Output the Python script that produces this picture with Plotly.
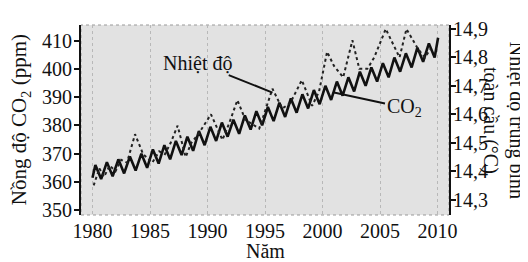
import plotly.graph_objects as go

# CO2 concentration (ppm), seasonal zigzag
co2_years = [1980.0, 1980.25, 1980.75, 1981.25, 1981.75, 1982.25, 1982.75, 1983.25, 1983.75,
             1984.25, 1984.75, 1985.25, 1985.75, 1986.25, 1986.75, 1987.25, 1987.75,
             1988.25, 1988.75, 1989.25, 1989.75, 1990.25, 1990.75, 1991.25, 1991.75,
             1992.25, 1992.75, 1993.25, 1993.75, 1994.25, 1994.75, 1995.25, 1995.75,
             1996.25, 1996.75, 1997.25, 1997.75, 1998.25, 1998.75, 1999.25, 1999.75,
             2000.25, 2000.75, 2001.25, 2001.75, 2002.25, 2002.75, 2003.25, 2003.75,
             2004.25, 2004.75, 2005.25, 2005.75, 2006.25, 2006.75, 2007.25, 2007.75,
             2008.25, 2008.75, 2009.25, 2009.75, 2010.05]
co2_ppm = [361.5, 366, 361, 367, 362, 368, 363, 369, 364,
           370, 365, 371.5, 366.5, 373, 368, 374.5, 369.5,
           376, 371, 378, 373, 379.5, 374.5, 381, 376,
           382, 377, 383.5, 378.5, 385, 380, 386.5, 381.5,
           388, 383, 389.5, 384.5, 391, 386, 392.5, 387.5,
           394, 389, 395.5, 390.5, 397, 392, 399, 394,
           400.5, 395.5, 402, 397, 404, 399, 405.5, 400.5,
           407.5, 402.5, 409, 404, 411]

# Global mean temperature (°C)
temp_years = [1980.1, 1980.6, 1981.0, 1981.5, 1982.0, 1982.5, 1983.0, 1983.7, 1984.4,
              1985.2, 1985.8, 1986.3, 1986.8, 1987.4, 1988.1, 1988.6, 1989.2, 1989.8,
              1990.3, 1991.3, 1991.9, 1992.6, 1993.3, 1994.5, 1995.0, 1995.65, 1996.5,
              1997.2, 1998.2, 1999.1, 1999.7, 2000.4, 2001.0, 2001.8, 2002.6, 2003.2,
              2003.9, 2004.5, 2005.5, 2006.7, 2007.3, 2008.3, 2008.9, 2009.4]
temp_c = [14.35, 14.41, 14.38, 14.42, 14.40, 14.44, 14.43, 14.53, 14.46,
          14.43, 14.47, 14.46, 14.50, 14.56, 14.45, 14.50, 14.53, 14.57,
          14.60, 14.51, 14.57, 14.65, 14.58, 14.55, 14.61, 14.69, 14.62,
          14.64, 14.72, 14.63, 14.68, 14.82, 14.77, 14.73, 14.86, 14.76,
          14.76, 14.80, 14.90, 14.80, 14.90, 14.83, 14.80, 14.83]

x_ticks = [1980, 1985, 1990, 1995, 2000, 2005, 2010]
co2_ticks = [350, 360, 370, 380, 390, 400, 410]
temp_ticks = [14.3, 14.4, 14.5, 14.6, 14.7, 14.8, 14.9]

FONT = "Liberation Serif"
FS = 20

fig = go.Figure()
fig.add_trace(go.Scatter(x=temp_years, y=temp_c, mode="lines", yaxis="y2",
                         line=dict(color="#222", width=2, dash="dot"), showlegend=False))
fig.add_trace(go.Scatter(x=co2_years, y=co2_ppm, mode="lines",
                         line=dict(color="#111", width=2.6), showlegend=False))

fig.update_layout(
    width=528, height=262,
    margin=dict(l=73, r=87, t=10, b=55),
    paper_bgcolor="white", plot_bgcolor="#e2e2e2",
    separators=", ",
    font=dict(family=FONT, size=FS, color="#111"),
    xaxis=dict(range=[1979.0, 2011.0], tickvals=x_ticks, showgrid=True,
               gridcolor="#b8b8b8", griddash="dot", gridwidth=1,
               showline=False, zeroline=False, ticks="", ticklabelstandoff=2,
               tickfont=dict(size=FS)),
    yaxis=dict(range=[348.3, 415.5], tickvals=co2_ticks, showgrid=False, zeroline=False,
               showline=True, linecolor="#111", linewidth=2, ticks="outside",
               ticklen=5, tickwidth=1.5, tickcolor="#111", tickfont=dict(size=FS),
               ticklabelstandoff=-2),
    yaxis2=dict(range=[14.246, 14.914], tickvals=temp_ticks, tickformat=".1f",
                overlaying="y", side="right", showgrid=False, zeroline=False,
                showline=True, linecolor="#111", linewidth=2, ticks="outside",
                ticklen=5, tickwidth=1.5, tickcolor="#111", tickfont=dict(size=FS),
                ticklabelstandoff=-7),
    shapes=[dict(type="rect", xref="paper", yref="paper", x0=0, x1=1, y0=0, y1=1,
                 line=dict(color="#999", width=1, dash="dot"), layer="below")],
    annotations=[
        dict(text="Nồng độ CO<sub>2</sub> (ppm)", xref="paper", yref="paper",
             x=-0.165, y=0.5, xanchor="center", yanchor="middle",
             textangle=-90, showarrow=False, font=dict(size=21)),
        dict(text="Nhiệt độ trung bình<br>toàn cầu (°C)", xref="paper", yref="paper",
             x=1.150, y=0.5, xanchor="center", yanchor="middle",
             textangle=90, showarrow=False, font=dict(size=20)),
        dict(text="Năm", xref="paper", yref="paper", x=0.5, y=-0.19,
             xanchor="center", yanchor="middle", showarrow=False, font=dict(size=FS)),
        dict(text="Nhiệt độ", x=1995.65, y=391.6, xref="x", yref="y",
             ax=-75, ay=-30, showarrow=True, arrowhead=0, arrowwidth=2,
             arrowcolor="#111", font=dict(size=FS)),
        dict(text="CO<sub>2</sub>", x=2001.0, y=391.6, xref="x", yref="y",
             ax=70, ay=15, showarrow=True, arrowhead=0, arrowwidth=2,
             arrowcolor="#111", font=dict(size=FS)),
    ],
)

fig.write_html("out.html")
